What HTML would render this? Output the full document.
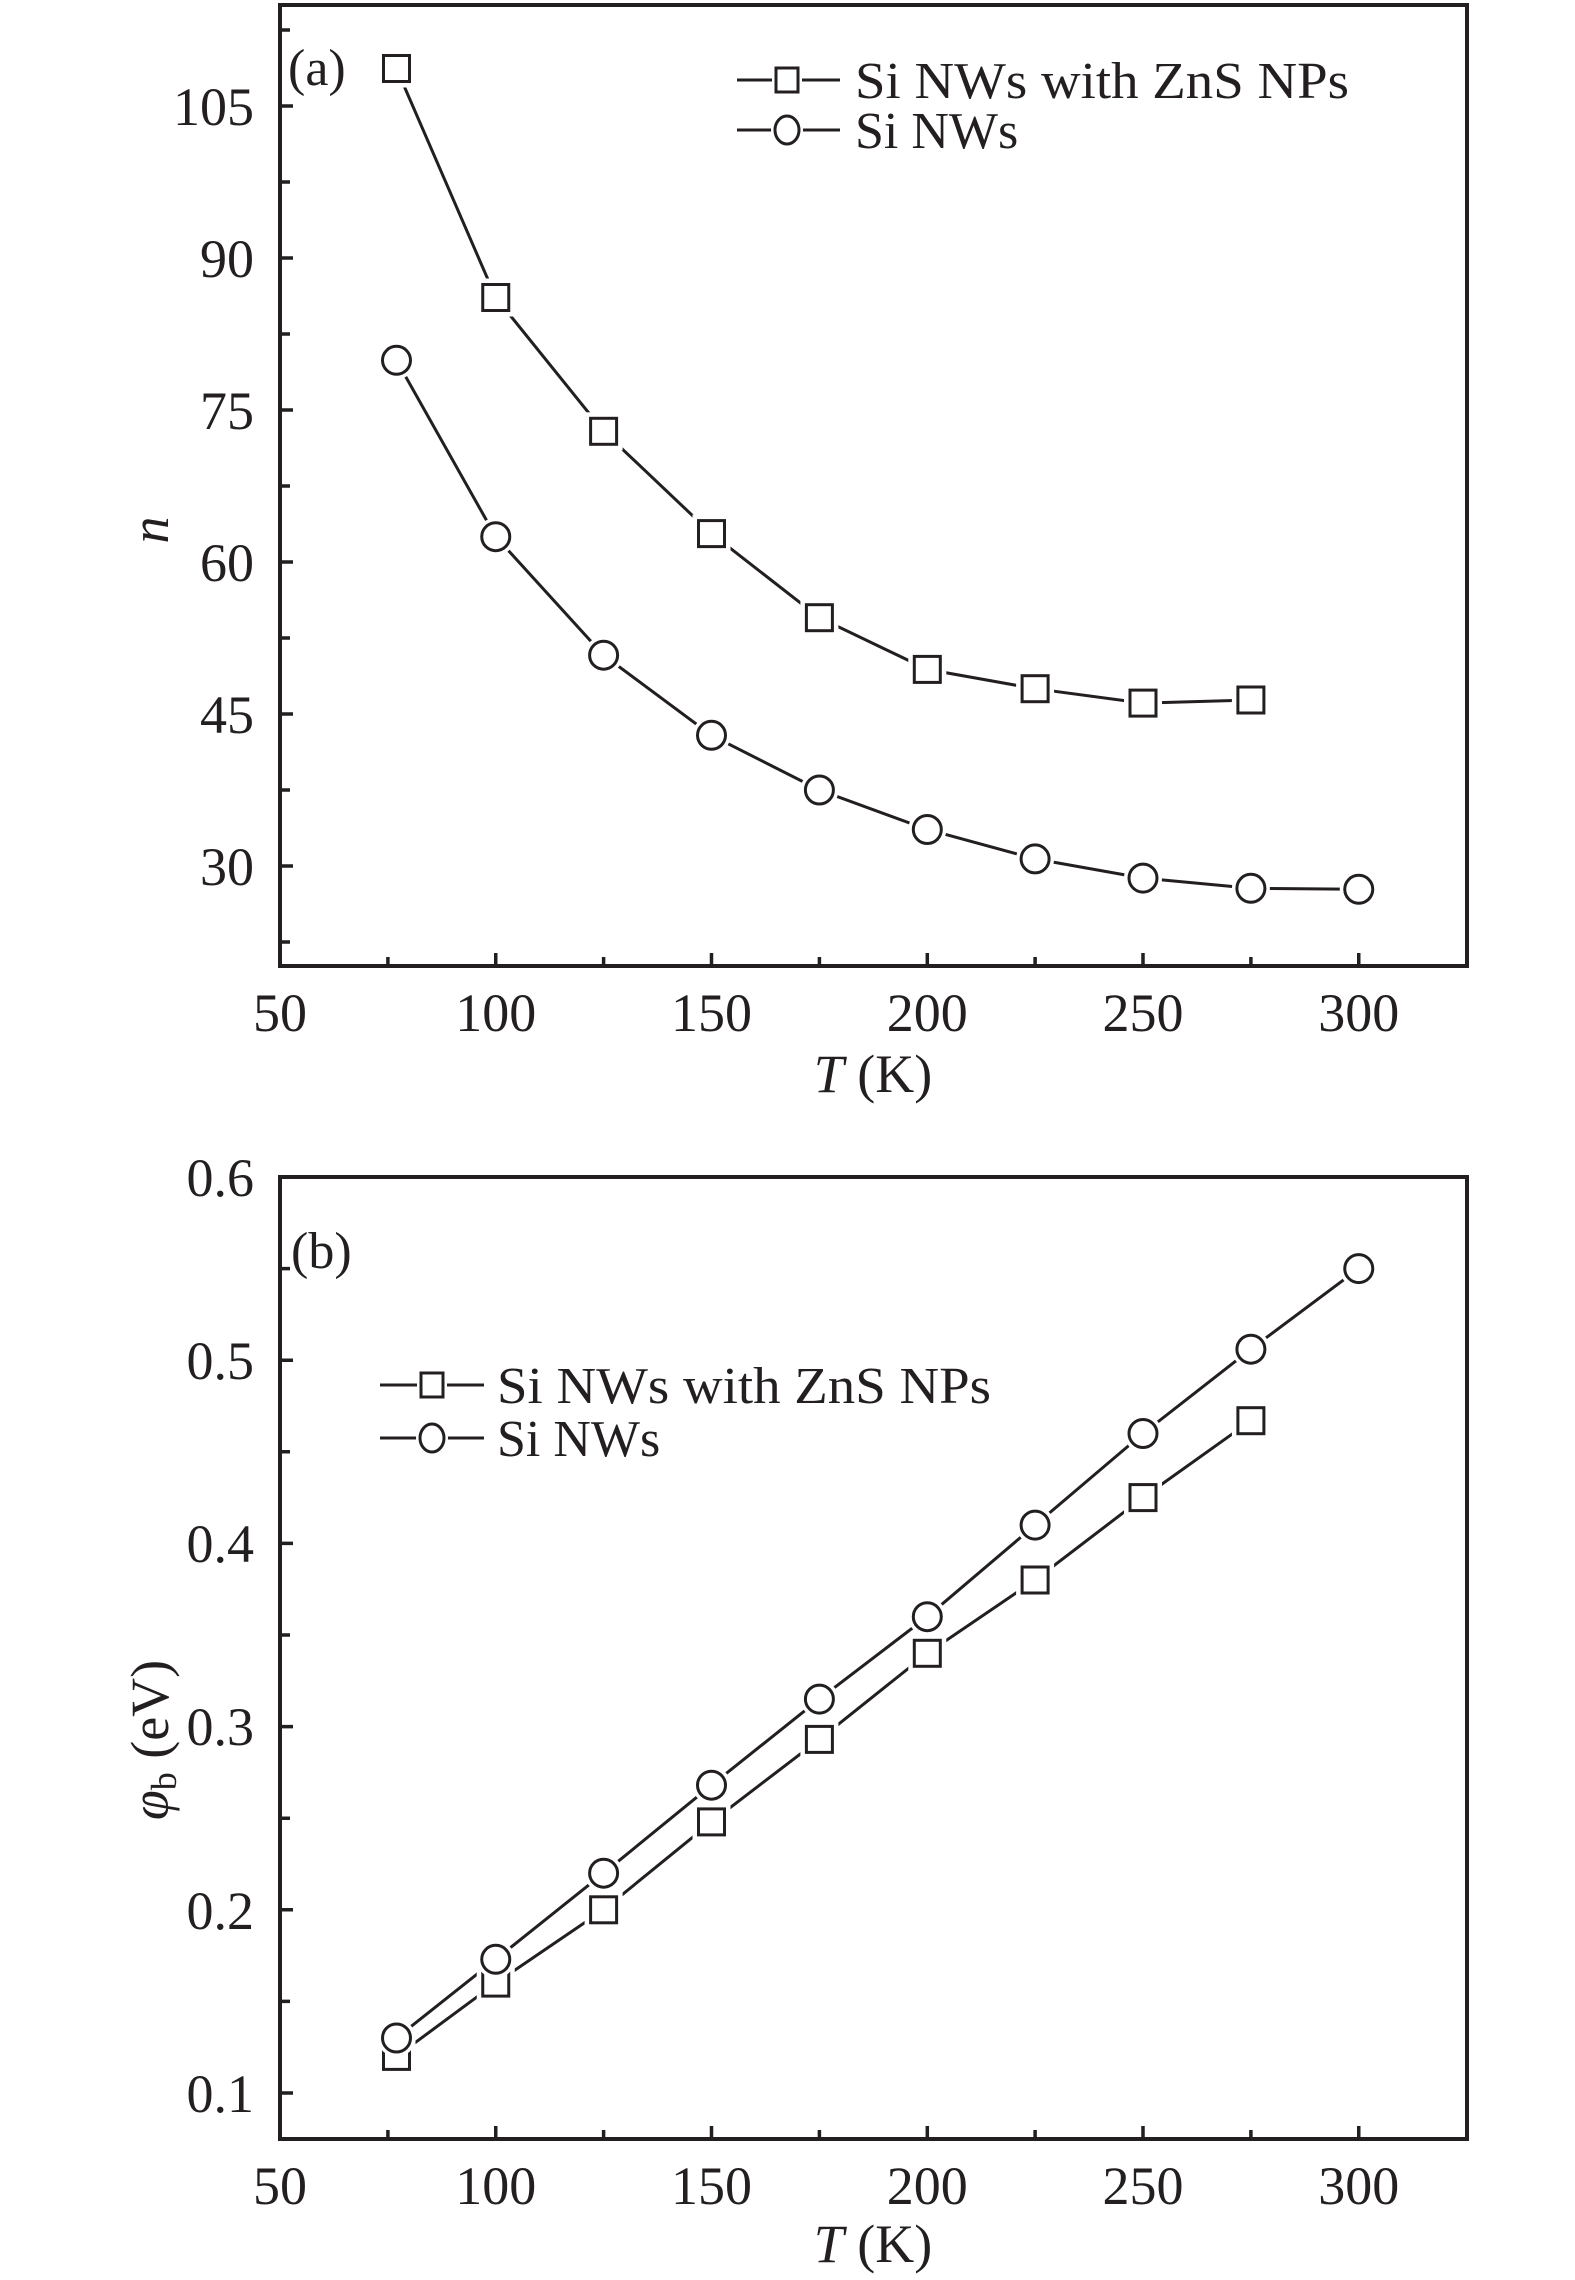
<!DOCTYPE html>
<html><head><meta charset="utf-8"><style>html,body{margin:0;padding:0;background:#fff}svg{display:block}text{font-family:"Liberation Serif",serif;fill:#231f20}</style></head><body>
<svg width="1575" height="2280" viewBox="0 0 1575 2280" xmlns="http://www.w3.org/2000/svg">
<g stroke="#231f20" fill="none">
<rect x="280" y="5" width="1187" height="961" stroke-width="4"/>
<rect x="280" y="1177" width="1187" height="962" stroke-width="4"/>
<g stroke-width="3.5">
<path d="M280 106h13M280 258h13M280 410h13M280 562h13M280 714h13M280 866h13M280 30h10M280 182h10M280 334h10M280 486h10M280 638h10M280 790h10M280 942h10"/>
<path d="M495.75 966v-13M711.5 966v-13M927.3 966v-13M1143 966v-13M1358.75 966v-13M387.9 966v-9M603.6 966v-9M819.4 966v-9M1035.1 966v-9M1250.9 966v-9"/>
<path d="M280 1360.2h13M280 1543.4h13M280 1726.6h13M280 1909.8h13M280 2093h13M280 1268.6h10M280 1451.8h10M280 1635h10M280 1818.2h10M280 2001.4h10"/>
<path d="M495.75 2139v-13M711.5 2139v-13M927.3 2139v-13M1143 2139v-13M1358.75 2139v-13M387.9 2139v-9M603.6 2139v-9M819.4 2139v-9M1035.1 2139v-9M1250.9 2139v-9"/>
</g>
<g stroke-width="3">
<polyline points="396.5,68.5 495.75,297.5 603.6,431.3 711.5,533.6 819.4,617.7 927.3,669.4 1035.1,688.7 1143,703.1 1250.9,700"/>
<polyline points="396.5,360.3 495.75,536.7 603.6,655.2 711.5,735.3 819.4,790 927.3,829.5 1035.1,858.9 1143,878.1 1250.9,888.3 1358.75,889.3"/>
<polyline points="396.5,2056.4 495.75,1983.1 603.6,1909.8 711.5,1821.9 819.4,1739.4 927.3,1653.3 1035.1,1580 1143,1497.6 1250.9,1420.7"/>
<polyline points="396.5,2038 495.75,1959.3 603.6,1873.2 711.5,1785.2 819.4,1699.1 927.3,1616.7 1035.1,1525.1 1143,1433.5 1250.9,1349.2 1358.75,1268.6"/>
<path d="M737 80h103M737 130h103M380 1385h104M380 1438h104"/>
</g>
</g>
<defs>
<g id="sq"><rect x="-13" y="-13" width="26" height="26" fill="#fff" stroke="#fff" stroke-width="12"/><rect x="-13" y="-13" width="26" height="26" fill="#fff" stroke="#231f20" stroke-width="3"/></g>
<g id="ci"><circle r="14" fill="#fff" stroke="#fff" stroke-width="10"/><circle r="14" fill="#fff" stroke="#231f20" stroke-width="3"/></g>
<g id="lsq"><rect x="-11" y="-12" width="22" height="24" fill="#fff" stroke="#fff" stroke-width="8"/><rect x="-11" y="-12" width="22" height="24" fill="#fff" stroke="#231f20" stroke-width="3"/></g>
<g id="lci"><ellipse rx="12" ry="14" fill="#fff" stroke="#fff" stroke-width="8"/><ellipse rx="12" ry="14" fill="#fff" stroke="#231f20" stroke-width="3"/></g>
</defs>
<use href="#sq" x="396.5" y="68.5"/><use href="#sq" x="495.75" y="297.5"/><use href="#sq" x="603.6" y="431.3"/><use href="#sq" x="711.5" y="533.6"/><use href="#sq" x="819.4" y="617.7"/><use href="#sq" x="927.3" y="669.4"/><use href="#sq" x="1035.1" y="688.7"/><use href="#sq" x="1143" y="703.1"/><use href="#sq" x="1250.9" y="700"/>
<use href="#ci" x="396.5" y="360.3"/><use href="#ci" x="495.75" y="536.7"/><use href="#ci" x="603.6" y="655.2"/><use href="#ci" x="711.5" y="735.3"/><use href="#ci" x="819.4" y="790"/><use href="#ci" x="927.3" y="829.5"/><use href="#ci" x="1035.1" y="858.9"/><use href="#ci" x="1143" y="878.1"/><use href="#ci" x="1250.9" y="888.3"/><use href="#ci" x="1358.75" y="889.3"/>
<use href="#sq" x="396.5" y="2056.4"/><use href="#sq" x="495.75" y="1983.1"/><use href="#sq" x="603.6" y="1909.8"/><use href="#sq" x="711.5" y="1821.9"/><use href="#sq" x="819.4" y="1739.4"/><use href="#sq" x="927.3" y="1653.3"/><use href="#sq" x="1035.1" y="1580"/><use href="#sq" x="1143" y="1497.6"/><use href="#sq" x="1250.9" y="1420.7"/>
<use href="#ci" x="396.5" y="2038"/><use href="#ci" x="495.75" y="1959.3"/><use href="#ci" x="603.6" y="1873.2"/><use href="#ci" x="711.5" y="1785.2"/><use href="#ci" x="819.4" y="1699.1"/><use href="#ci" x="927.3" y="1616.7"/><use href="#ci" x="1035.1" y="1525.1"/><use href="#ci" x="1143" y="1433.5"/><use href="#ci" x="1250.9" y="1349.2"/><use href="#ci" x="1358.75" y="1268.6"/>
<use href="#lsq" x="787" y="80"/><use href="#lci" x="787" y="130"/>
<use href="#lsq" x="432" y="1385"/><use href="#lci" x="432" y="1438"/>
<g font-size="52">
<text x="855" y="98" textLength="494" lengthAdjust="spacingAndGlyphs">Si NWs with ZnS NPs</text>
<text x="855" y="148">Si NWs</text>
<text x="497" y="1403" textLength="494" lengthAdjust="spacingAndGlyphs">Si NWs with ZnS NPs</text>
<text x="497" y="1456">Si NWs</text>
<text x="288" y="85">(a)</text>
<text x="291" y="1268">(b)</text>
</g>
<g font-size="54" text-anchor="end">
<text x="254" y="125">105</text><text x="254" y="277">90</text><text x="254" y="429">75</text><text x="254" y="581">60</text><text x="254" y="733">45</text><text x="254" y="885">30</text>
<text x="254" y="1196">0.6</text><text x="254" y="1379">0.5</text><text x="254" y="1562">0.4</text><text x="254" y="1745">0.3</text><text x="254" y="1929">0.2</text><text x="254" y="2112">0.1</text>
</g>
<g font-size="54" text-anchor="middle">
<text x="280" y="1031">50</text><text x="495.75" y="1031">100</text><text x="711.5" y="1031">150</text><text x="927.3" y="1031">200</text><text x="1143" y="1031">250</text><text x="1358.75" y="1031">300</text>
<text x="280" y="2204">50</text><text x="495.75" y="2204">100</text><text x="711.5" y="2204">150</text><text x="927.3" y="2204">200</text><text x="1143" y="2204">250</text><text x="1358.75" y="2204">300</text>
<text x="873" y="1092"><tspan font-style="italic">T</tspan> (K)</text>
<text x="873" y="2262"><tspan font-style="italic">T</tspan> (K)</text>
</g>
<text font-size="54" font-style="italic" text-anchor="middle" transform="translate(168,530) rotate(-90)">n</text>
<text font-size="54" text-anchor="middle" transform="translate(168,1740) rotate(-90)"><tspan font-style="italic">φ</tspan><tspan font-size="36" dy="8">b</tspan><tspan dy="-8"> (eV)</tspan></text>
</svg>
</body></html>
